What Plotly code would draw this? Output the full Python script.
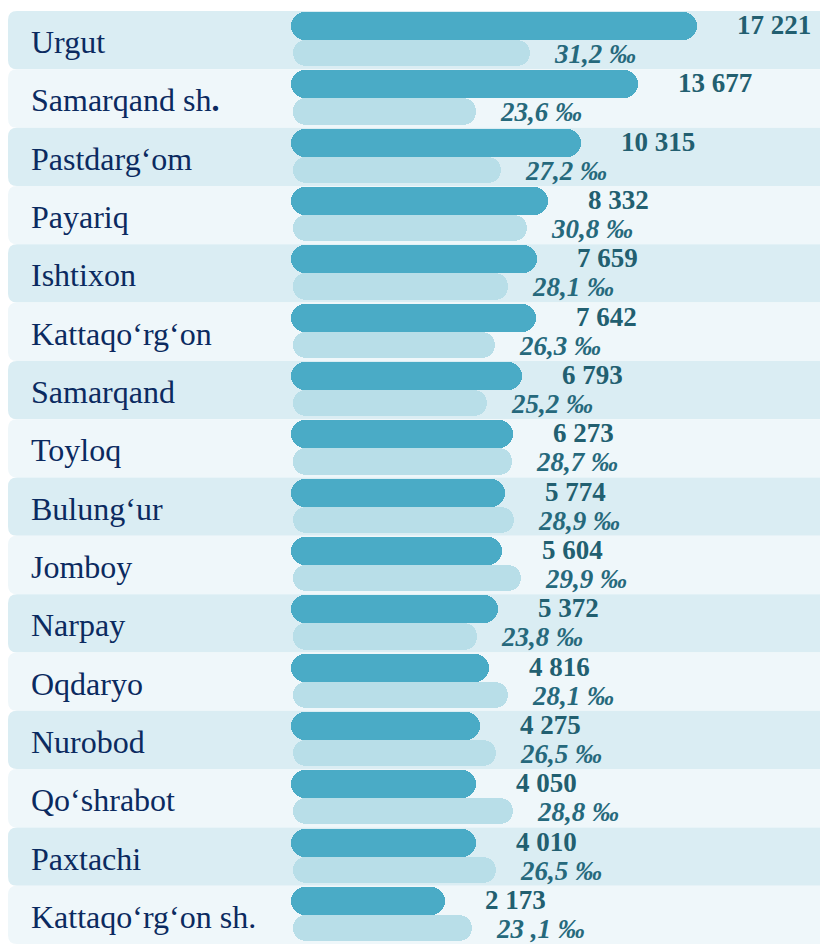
import plotly.graph_objects as go

# ---------------- data ----------------
districts = ["Urgut", "Samarqand sh<b>.</b>", "Pastdarg‘om", "Payariq", "Ishtixon",
             "Kattaqo‘rg‘on", "Samarqand", "Toyloq", "Bulung‘ur", "Jomboy", "Narpay",
             "Oqdaryo", "Nurobod", "Qo‘shrabot", "Paxtachi", "Kattaqo‘rg‘on sh."]
births = [17221, 13677, 10315, 8332, 7659, 7642, 6793, 6273, 5774, 5604, 5372,
          4816, 4275, 4050, 4010, 2173]
rates = [31.2, 23.6, 27.2, 30.8, 28.1, 26.3, 25.2, 28.7, 28.9, 29.9, 23.8,
         28.1, 26.5, 28.8, 26.5, 23.1]
rate_labels = ["31,2 ‰", "23,6 ‰", "27,2 ‰", "30,8 ‰", "28,1 ‰", "26,3 ‰", "25,2 ‰",
               "28,7 ‰", "28,9 ‰", "29,9 ‰", "23,8 ‰", "28,1 ‰", "26,5 ‰", "28,8 ‰",
               "26,5 ‰", "23 ,1 ‰"]

# ---------------- style / layout constants ----------------
W, H, TOP = 820, 944, 11
FONT = "Liberation Serif, Times New Roman, serif"
C_BAR = "#4aabc6"
C_BAR2 = "#b8dee8"
C_BAND_A = "#daedf3"
C_BAND_B = "#eff7fa"
C_LABEL = "#0b2a60"
C_NUM = "#225f70"
C_RATE = "#26697c"

BASE = 7000          # visual lead-in of the count bars (axis units)
RBASE = 2.0          # lead-in of the rate bars
L_PIX, R_PIX = 291, 697        # count bar left end / longest bar end (px)
L2_PIX, R2_PIX = 293, 530      # rate bar left end / longest bar end (px)

k = (R_PIX - L_PIX) / (max(births) + BASE)
x_range = [-BASE - L_PIX / k, -BASE + (W - L_PIX) / k]
k2 = (R2_PIX - L2_PIX) / (max(rates) + RBASE)
x2_range = [-RBASE - L2_PIX / k2, -RBASE + (W - L2_PIX) / k2]

n = len(districts)
fig = go.Figure()

D_OFF, D_W = -0.48, 0.48
L_OFF, L_W = 0.0, 0.45

def add_bar(xvals, axis, color, off, wid, base=None):
    fig.add_trace(go.Bar(
        y=districts, x=xvals, orientation="h", base=base,
        xaxis=axis, yaxis="y",
        marker=dict(color=color, line=dict(width=0), cornerradius="50%"),
        offset=off, width=wid, hoverinfo="skip", showlegend=False))

# rounded lead-in caps (drawn first, their right end hidden under the value bars)
cap_over = min(births) * 0.5
add_bar([BASE + cap_over] * n, "x", C_BAR, D_OFF, D_W, base=-BASE)
add_bar(births, "x", C_BAR, D_OFF, D_W)
cap_over2 = min(rates) * 0.5
add_bar([RBASE + cap_over2] * n, "x2", C_BAR2, L_OFF, L_W, base=-RBASE)
add_bar(rates, "x2", C_BAR2, L_OFF, L_W)

# bands
shapes = []
R = 9
dr = R / ((H - TOP) / n)
for i in range(n):
    y0, y1 = i - 0.5, i + 0.5
    path = (f"M {8+R},{y0} L {W},{y0} L {W},{y1} L {8+R},{y1} "
            f"Q 8,{y1} 8,{y1-dr} L 8,{y0+dr} Q 8,{y0} {8+R},{y0} Z")
    shapes.append(dict(type="path", path=path, xref="paper", xsizemode="pixel",
                       xanchor=0, yref="y", fillcolor=C_BAND_A if i % 2 == 0 else C_BAND_B,
                       line=dict(width=0), layer="below"))

annotations = []
for i, name in enumerate(districts):
    annotations.append(dict(x=29 / W, xref="paper", y=name, yref="y", text=name,
                            xanchor="left", yanchor="middle", showarrow=False, yshift=-2,
                            font=dict(family=FONT, size=32, color=C_LABEL)))
    annotations.append(dict(x=births[i], xref="x", y=name, yref="y",
                            text=f"<b>{births[i]:,}</b>".replace(",", " "),
                            xanchor="left", yanchor="middle", showarrow=False,
                            xshift=38, yshift=15,
                            font=dict(family=FONT, size=27, color=C_NUM)))
    annotations.append(dict(x=rates[i], xref="x2", y=name, yref="y",
                            text=f"<b><i>{rate_labels[i]}</i></b>",
                            xanchor="left", yanchor="middle", showarrow=False,
                            xshift=22, yshift=-14,
                            font=dict(family=FONT, size=27, color=C_RATE)))

fig.update_layout(
    width=W, height=H, margin=dict(l=0, r=0, t=TOP, b=0),
    paper_bgcolor="white", plot_bgcolor="white",
    barmode="overlay", bargap=0,
    xaxis=dict(range=x_range, visible=False, fixedrange=True),
    xaxis2=dict(range=x2_range, visible=False, overlaying="x", fixedrange=True),
    yaxis=dict(type="category", categoryorder="array", categoryarray=districts,
               range=[n - 0.5, -0.5], visible=False, fixedrange=True),
    shapes=shapes, annotations=annotations, showlegend=False,
)

fig.write_html("out.html")
